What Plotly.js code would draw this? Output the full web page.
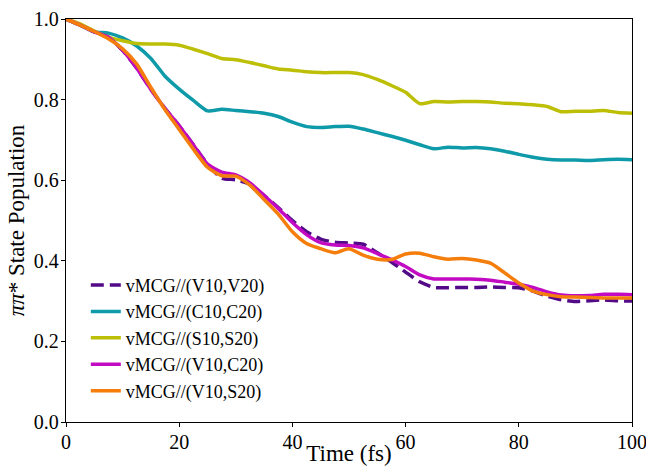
<!DOCTYPE html>
<html>
<head>
<meta charset="utf-8">
<script src="https://cdn.plot.ly/plotly-3.0.1.min.js"></script>
<style>html,body{margin:0;padding:0;background:#fff}#chart{width:646px;height:466px}</style>
</head>
<body>
<div id="chart"></div>
<script>
const time = [0,2.5,5,7.5,10,12.5,15,17.5,20,22.5,25,27.5,30,32.5,35,37.5,40,42.5,45,47.5,50,52.5,55,57.5,60,62.5,65,67.5,70,72.5,75,77.5,80,82.5,85,87.5,90,92.5,95,97.5,100];

const seriesNames = ["vMCG//(V10,V20)","vMCG//(C10,C20)","vMCG//(S10,S20)","vMCG//(V10,C20)","vMCG//(V10,S20)"];

const popV10V20 = [1.0,0.985,0.968,0.955,0.922,0.878,0.825,0.778,0.735,0.688,0.64,0.605,0.601,0.59,0.562,0.532,0.5,0.472,0.454,0.446,0.444,0.441,0.42,0.397,0.372,0.348,0.334,0.333,0.334,0.334,0.335,0.334,0.333,0.325,0.312,0.303,0.299,0.301,0.303,0.301,0.3];
const popC10C20 = [1.0,0.985,0.968,0.965,0.953,0.933,0.902,0.858,0.826,0.798,0.772,0.776,0.773,0.77,0.766,0.758,0.744,0.733,0.731,0.733,0.734,0.727,0.718,0.709,0.699,0.688,0.678,0.682,0.68,0.681,0.678,0.672,0.664,0.657,0.652,0.65,0.65,0.649,0.651,0.652,0.651];
const popS10S20 = [1.0,0.988,0.97,0.955,0.946,0.939,0.938,0.938,0.935,0.925,0.914,0.902,0.899,0.892,0.884,0.876,0.873,0.869,0.867,0.867,0.867,0.862,0.85,0.835,0.818,0.79,0.795,0.794,0.795,0.795,0.794,0.791,0.79,0.787,0.783,0.77,0.771,0.771,0.773,0.768,0.766];
const popV10C20 = [1.0,0.985,0.968,0.955,0.922,0.878,0.825,0.778,0.735,0.688,0.64,0.62,0.613,0.593,0.562,0.53,0.495,0.465,0.445,0.439,0.438,0.432,0.418,0.403,0.386,0.365,0.355,0.355,0.355,0.354,0.352,0.347,0.342,0.334,0.323,0.315,0.313,0.314,0.317,0.317,0.316];
const popV10S20 = [1.0,0.985,0.969,0.951,0.926,0.888,0.83,0.775,0.726,0.677,0.632,0.611,0.61,0.588,0.552,0.516,0.472,0.443,0.43,0.42,0.43,0.414,0.404,0.403,0.417,0.419,0.41,0.404,0.406,0.402,0.394,0.37,0.345,0.325,0.316,0.311,0.31,0.309,0.308,0.308,0.308];

const colors = ["#520a88","#0e9aa9","#bcbf06","#c20ac2","#f47d0c"];
const dashes = ["13px,6px","solid","solid","solid","solid"];
const values = [popV10V20, popC10C20, popS10S20, popV10C20, popV10S20];

const traces = values.map((v, i) => ({
  x: time, y: v, name: seriesNames[i], type: "scatter", mode: "lines",
  line: {color: colors[i], width: 3.5, dash: dashes[i], shape: "spline", smoothing: 0.6}
}));
const font = "'Liberation Serif', 'Times New Roman', serif";
const layout = {
  width: 646, height: 466,
  margin: {l: 65.5, r: 14, t: 19, b: 44},
  paper_bgcolor: "#fff", plot_bgcolor: "#fff",
  font: {family: font, color: "#000", size: 18},
  showlegend: true,
  legend: {x: 0.035, y: 0.385, xanchor: "left", yanchor: "top", bgcolor: "rgba(0,0,0,0)",
           font: {family: font, size: 18, color: "#000"}, tracegroupgap: 0},
  xaxis: {range: [0, 100], tickvals: [0,20,40,60,80,100], ticktext: ["0","20","40","60","80","100"],
          ticks: "outside", ticklen: 4, tickwidth: 1, tickcolor: "#000", ticklabeloverflow: "allow", ticklabelstandoff: -2,
          showline: true, linecolor: "#000", linewidth: 1.2, mirror: true, showgrid: false, zeroline: false,
          tickfont: {family: font, size: 20, color: "#000"},
          title: {text: "Time (fs)", font: {family: font, size: 23, color: "#000"}, standoff: 2}},
  yaxis: {range: [0, 1.0], tickvals: [0,0.2,0.4,0.6,0.8,1.0], ticktext: ["0.0","0.2","0.4","0.6","0.8","1.0"],
          ticks: "outside", ticklen: 4, tickwidth: 1, tickcolor: "#000", ticklabeloverflow: "allow", ticklabelstandoff: -2,
          showline: true, linecolor: "#000", linewidth: 1.2, mirror: true, showgrid: false, zeroline: false,
          tickfont: {family: font, size: 20, color: "#000"},
          title: {text: "<i>ππ</i>* State Population", font: {family: font, size: 23, color: "#000"}, standoff: 2}}
};
Plotly.newPlot("chart", traces, layout, {displayModeBar: false, staticPlot: true});
</script>
</body>
</html>
